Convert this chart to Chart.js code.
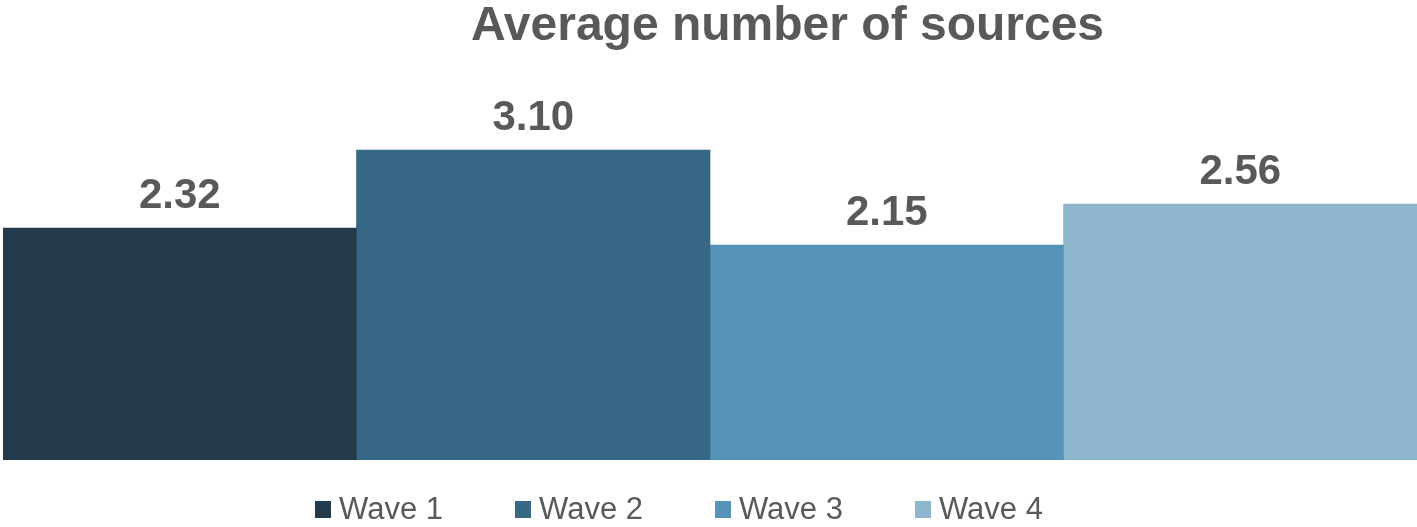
<!DOCTYPE html>
<html>
<head>
<meta charset="utf-8">
<script src="https://cdn.jsdelivr.net/npm/chart.js@4"></script>
<style>
  html, body { margin: 0; padding: 0; background: #ffffff; }
  #wrap { width: 1417px; height: 527px; position: relative; }
</style>
</head>
<body>
<div id="wrap"><canvas id="chart"></canvas></div>
<script>
// Chart text
const chartTitle = 'Average number of sources';
const categories = ['All respondents'];

// One bar per survey wave
const waves = ['Wave 1', 'Wave 2', 'Wave 3', 'Wave 4'];
const averages = [2.32, 3.10, 2.15, 2.56];
const waveColors = ['#223a4c', '#376886', '#5593b7', '#8eb6cf'];

const TEXT = '#595959';
const FONT = '"Liberation Sans", Arial, Helvetica, sans-serif';

// Heading above the plot, centred a little right of the canvas middle
const heading = {
  id: 'heading',
  afterDraw(chart) {
    const ctx = chart.ctx;
    ctx.save();
    ctx.font = 'bold 48px ' + FONT;
    ctx.fillStyle = TEXT;
    ctx.textAlign = 'center';
    ctx.textBaseline = 'alphabetic';
    ctx.fillText(chartTitle, 787.5, 40);
    ctx.restore();
  }
};

// Value labels above each bar
const valueLabels = {
  id: 'valueLabels',
  afterDatasetsDraw(chart) {
    const ctx = chart.ctx;
    ctx.save();
    ctx.font = 'bold 42px ' + FONT;
    ctx.fillStyle = TEXT;
    ctx.textAlign = 'center';
    ctx.textBaseline = 'alphabetic';
    chart.data.datasets.forEach((ds, i) => {
      const meta = chart.getDatasetMeta(i);
      meta.data.forEach((bar, j) => {
        ctx.fillText(ds.data[j].toFixed(2), bar.x, bar.y - 20);
      });
    });
    ctx.restore();
  }
};

// Legend row under the plot: square swatch + wave name
const waveLegend = {
  id: 'waveLegend',
  afterDraw(chart) {
    const ctx = chart.ctx;
    ctx.save();
    ctx.font = '31px ' + FONT;
    const box = 16, gap = 8, spacing = 72;
    const items = chart.data.datasets.map(ds => ({
      label: ds.label,
      color: ds.backgroundColor,
      w: box + gap + ctx.measureText(ds.label).width
    }));
    const total = items.reduce((s, it) => s + it.w, 0) + spacing * (items.length - 1);
    let x = 679 - total / 2;
    const cy = 509;
    items.forEach(it => {
      ctx.fillStyle = it.color;
      ctx.fillRect(Math.round(x), cy - 8, box, box + 1);
      ctx.fillStyle = TEXT;
      ctx.textAlign = 'left';
      ctx.textBaseline = 'middle';
      ctx.fillText(it.label, x + box + gap, cy + 1);
      x += it.w + spacing;
    });
    ctx.restore();
  }
};

new Chart(document.getElementById('chart'), {
  type: 'bar',
  data: {
    labels: categories,
    datasets: waves.map((w, i) => ({
      label: w,
      data: [averages[i]],
      backgroundColor: waveColors[i],
      borderWidth: 0,
      barPercentage: 1,
      categoryPercentage: 1
    }))
  },
  options: {
    responsive: true,
    maintainAspectRatio: false,
    animation: false,
    layout: { padding: { left: 3, right: 0, top: 110, bottom: 67 } },
    scales: {
      x: { display: false },
      y: { display: false, min: 0, max: 3.5 }
    },
    plugins: {
      legend: { display: false },
      tooltip: { enabled: false },
      title: { display: false }
    }
  },
  plugins: [heading, valueLabels, waveLegend]
});
</script>
</body>
</html>
